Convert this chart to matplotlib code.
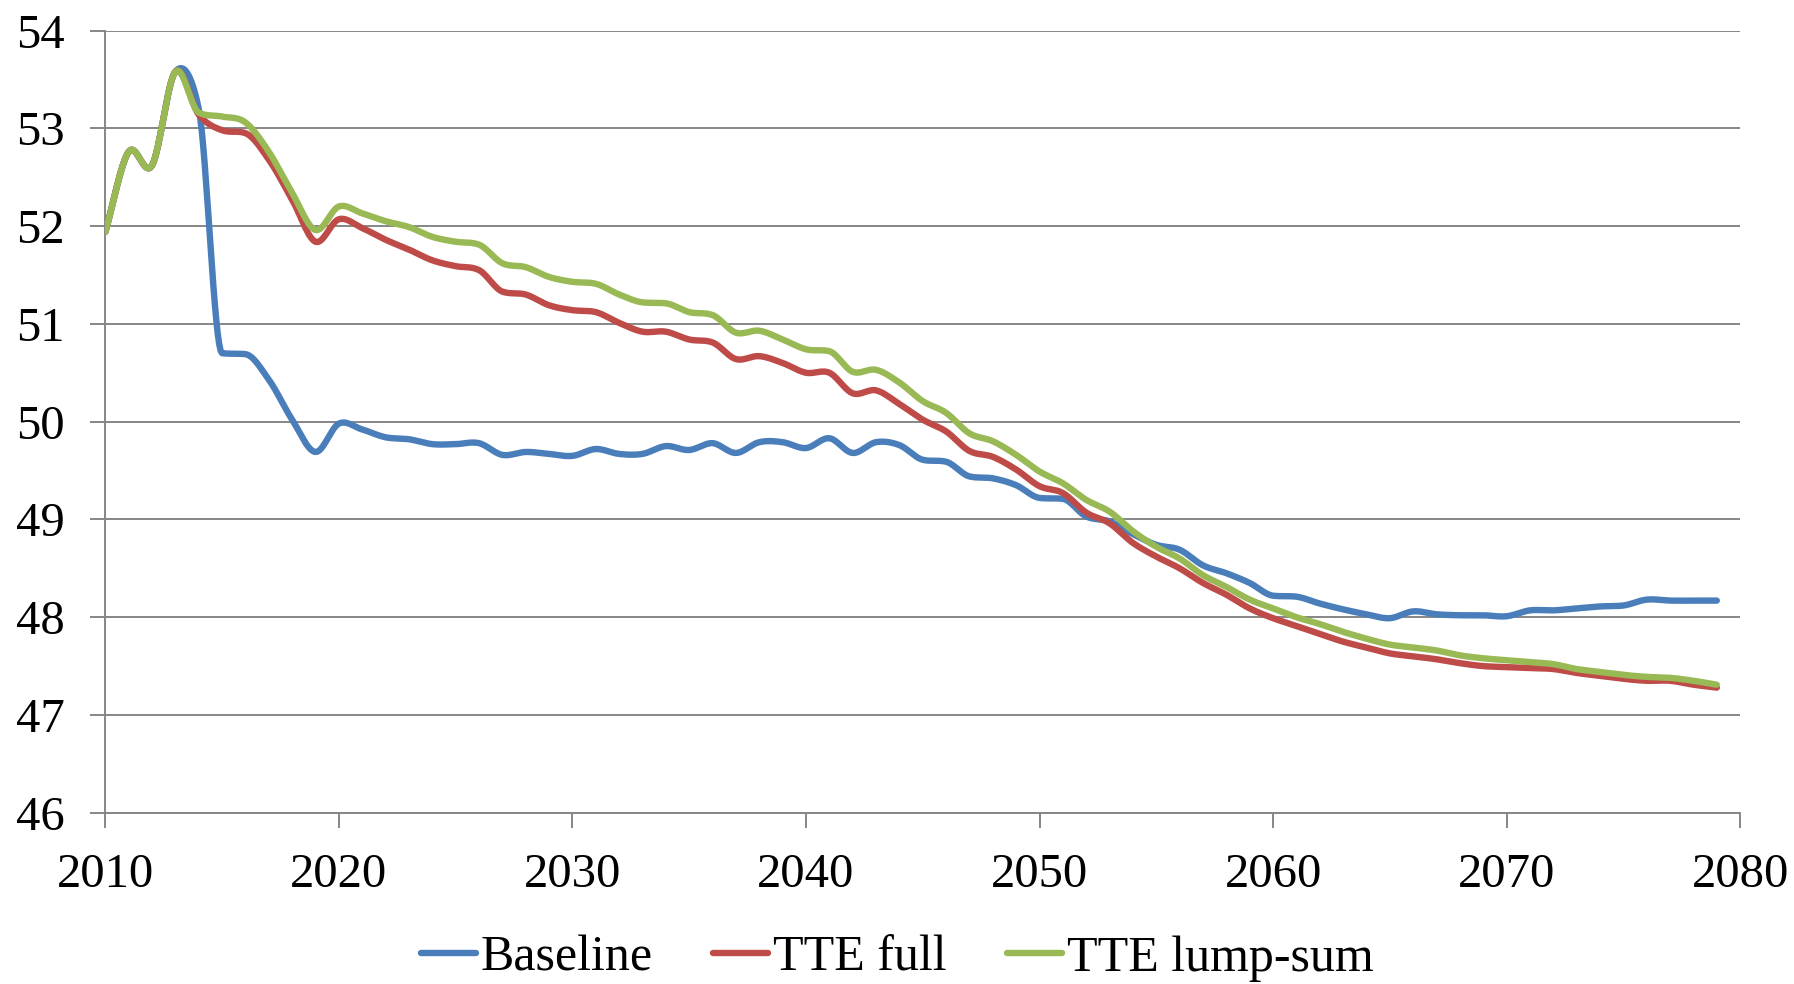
import numpy as np
import matplotlib
matplotlib.use("Agg")
import matplotlib.pyplot as plt

years = np.arange(2010, 2080)

baseline = [
    51.94, 52.76, 52.62, 53.58, 53.20, 50.70, 50.69, 50.43, 50.02, 49.69,
    49.98, 49.92, 49.84, 49.82, 49.77, 49.77, 49.78, 49.66, 49.69, 49.67,
    49.65, 49.72, 49.67, 49.67, 49.75, 49.71, 49.78, 49.68, 49.79, 49.79,
    49.73, 49.83, 49.68, 49.79, 49.76, 49.61, 49.59, 49.44, 49.42, 49.35,
    49.22, 49.21, 49.03, 48.98, 48.85, 48.74, 48.69, 48.53, 48.45, 48.35,
    48.22, 48.21, 48.14, 48.08, 48.03, 47.99, 48.06, 48.03, 48.02, 48.02,
    48.01, 48.07, 48.07, 48.09, 48.11, 48.12, 48.18, 48.17, 48.17, 48.17,
]

tte_full = [
    51.94, 52.76, 52.62, 53.58, 53.14, 52.98, 52.95, 52.68, 52.27, 51.84,
    52.07, 51.98, 51.86, 51.76, 51.65, 51.59, 51.55, 51.33, 51.30, 51.19,
    51.14, 51.12, 51.01, 50.92, 50.92, 50.84, 50.81, 50.64, 50.67, 50.60,
    50.50, 50.50, 50.29, 50.32, 50.18, 50.02, 49.90, 49.70, 49.64, 49.51,
    49.34, 49.27, 49.07, 48.96, 48.76, 48.62, 48.50, 48.35, 48.23, 48.09,
    47.99, 47.91, 47.83, 47.75, 47.69, 47.63, 47.60, 47.57, 47.53, 47.50,
    47.49, 47.48, 47.47, 47.43, 47.40, 47.37, 47.35, 47.35, 47.31, 47.28,
]

tte_lump = [
    51.94, 52.76, 52.62, 53.58, 53.16, 53.12, 53.06, 52.76, 52.34, 51.96,
    52.20, 52.13, 52.05, 51.99, 51.89, 51.84, 51.81, 51.62, 51.58, 51.48,
    51.43, 51.41, 51.30, 51.22, 51.21, 51.12, 51.09, 50.91, 50.93, 50.84,
    50.74, 50.72, 50.51, 50.53, 50.40, 50.21, 50.09, 49.88, 49.80, 49.66,
    49.49, 49.37, 49.20, 49.08, 48.88, 48.72, 48.60, 48.43, 48.31, 48.18,
    48.09, 48.00, 47.93, 47.85, 47.78, 47.72, 47.69, 47.66, 47.61, 47.58,
    47.56, 47.54, 47.52, 47.47, 47.44, 47.41, 47.39, 47.38, 47.35, 47.31,
]

series = [
    ("Baseline", baseline, "#4A7EBB"),
    ("TTE full", tte_full, "#BE4B48"),
    ("TTE lump-sum", tte_lump, "#98B954"),
]


def smooth(x, y, steps=16):
    # cubic Hermite through the yearly points, centred tangents
    # clamped so that steep drops do not overshoot
    x = np.asarray(x, float)
    y = np.asarray(y, float)
    h = np.diff(x)
    d = np.diff(y) / h
    m = np.zeros_like(y)
    m[0], m[-1] = d[0], d[-1]
    for i in range(1, len(y) - 1):
        c = 0.5 * (d[i - 1] + d[i])
        if d[i - 1] * d[i] > 0:
            lim = 3 * min(abs(d[i - 1]), abs(d[i]))
            c = np.sign(c) * min(abs(c), lim)
        m[i] = c
    t = np.linspace(0, 1, steps, endpoint=False)
    h00 = 2 * t**3 - 3 * t**2 + 1
    h10 = t**3 - 2 * t**2 + t
    h01 = -2 * t**3 + 3 * t**2
    h11 = t**3 - t**2
    xs, ys = [], []
    for i in range(len(y) - 1):
        xs.append(x[i] + t * h[i])
        ys.append(h00 * y[i] + h10 * h[i] * m[i] + h01 * y[i + 1] + h11 * h[i] * m[i + 1])
    xs.append([x[-1]])
    ys.append([y[-1]])
    return np.concatenate(xs), np.concatenate(ys)


plt.rcParams["font.family"] = ["Liberation Serif", "DejaVu Serif"]
grid_col = "#868686"

fig = plt.figure(figsize=(17.94, 9.84), dpi=100)
ax = fig.add_axes([0.0587, 0.174, 0.9113, 0.795])

for label, vals, col in series:
    sx, sy = smooth(years, vals)
    ax.plot(sx, sy, color=col, lw=4.6, label=label, solid_capstyle="round", zorder=3)

ax.set_xlim(2010, 2080)
ax.set_ylim(46, 54)
ax.set_xticks(np.arange(2010, 2081, 10))
ax.set_yticks(np.arange(46, 55, 1))
ax.grid(axis="y", color=grid_col, lw=1.4)
ax.set_axisbelow(True)

for side in ("top", "right"):
    ax.spines[side].set_visible(False)
for side in ("left", "bottom"):
    ax.spines[side].set_color(grid_col)
    ax.spines[side].set_linewidth(1.4)

ax.tick_params(axis="both", direction="out", color=grid_col, width=1.4,
               length=11, labelsize=35, pad=18)

fig.legend(loc="center", bbox_to_anchor=(0.5, 0.026), ncol=3,
           frameon=False, fontsize=36, handlelength=1.1, handletextpad=0.1,
           columnspacing=1.2)

fig.savefig("out.png", dpi=100)
